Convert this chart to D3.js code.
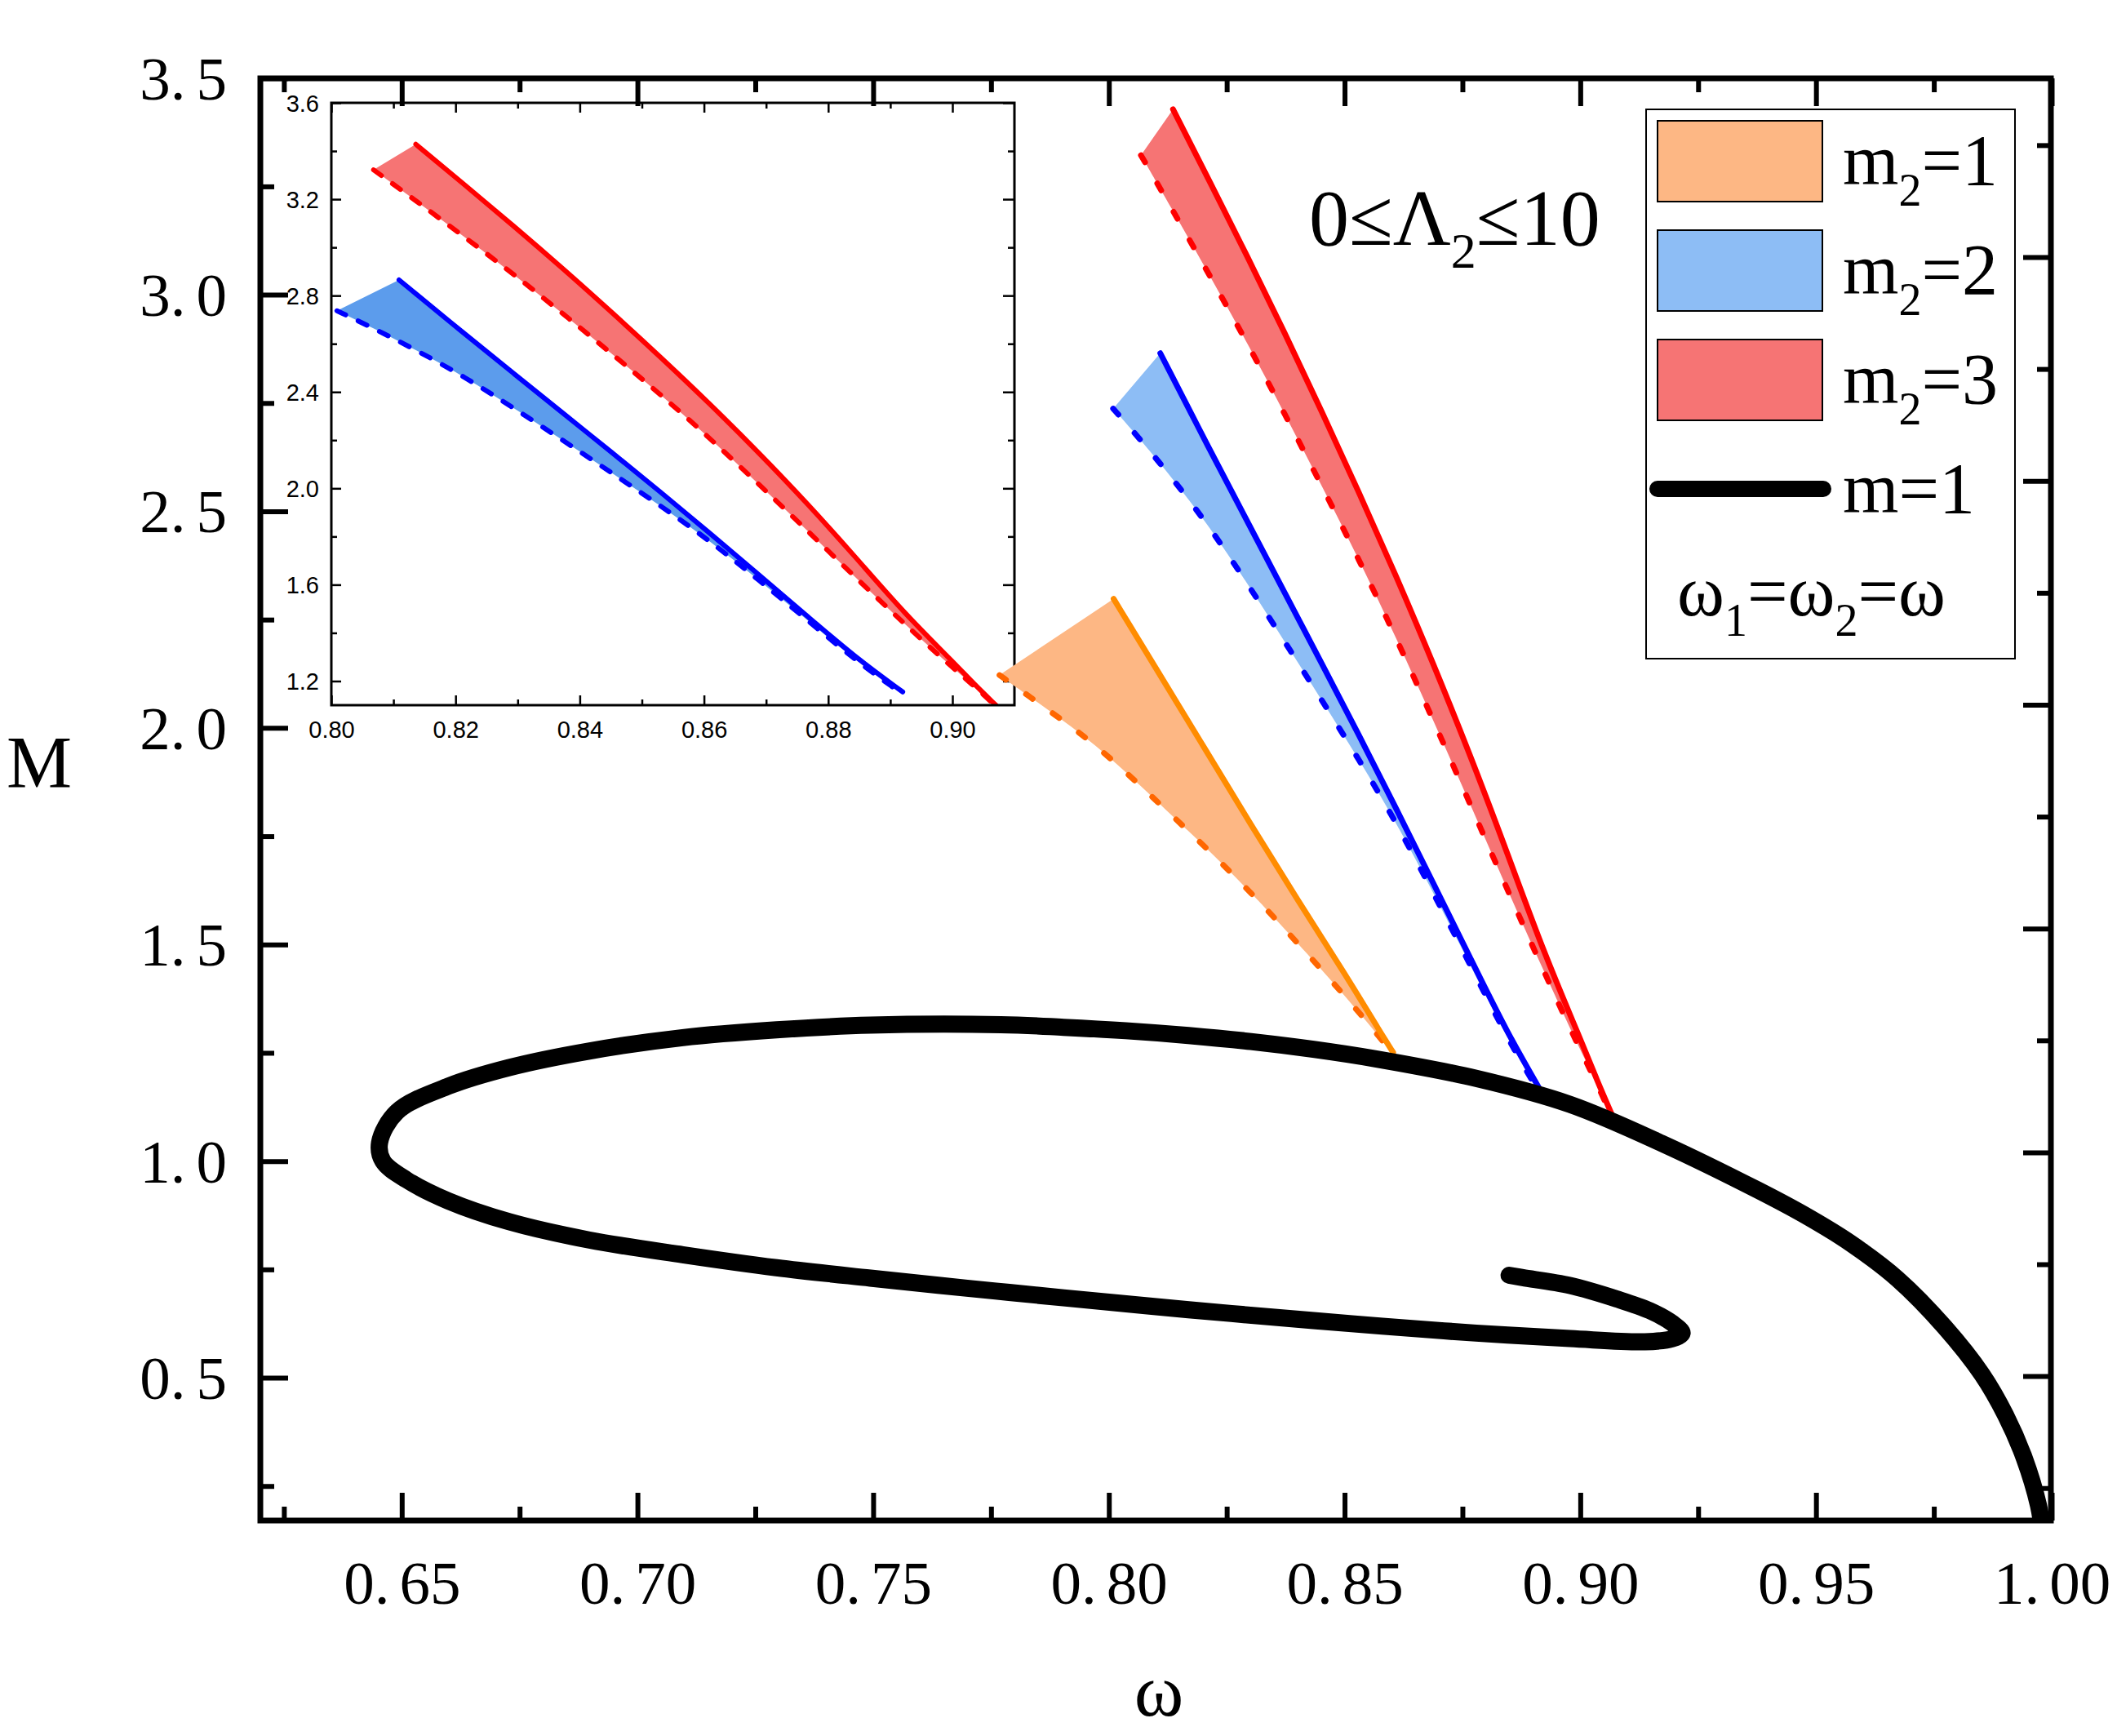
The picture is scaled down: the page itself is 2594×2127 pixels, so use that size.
<!DOCTYPE html>
<html>
<head>
<meta charset="utf-8">
<script src="https://cdn.jsdelivr.net/npm/d3@7"></script>
<style>
	body { margin: 0; background: #ffffff; }
	svg { display: block; background: #ffffff; }
</style>
</head>
<body>
<svg></svg>
<script>
	// ---- data (omega, M) ----
	var blackCurve = [
		[0.9980,0.150],[0.9972,0.205],[0.9942,0.314],[0.9902,0.414],[0.9852,0.508],[0.9773,0.617],
		[0.9673,0.728],[0.9574,0.810],[0.9475,0.876],[0.9375,0.934],[0.9177,1.039],[0.8978,1.131],[0.8779,1.191],
		[0.8566,1.236],[0.8434,1.258],[0.8301,1.276],[0.8169,1.290],[0.8036,1.301],[0.7904,1.309],
		[0.7771,1.315],[0.7494,1.314],[0.7295,1.303],[0.7096,1.285],[0.6897,1.254],[0.6728,1.216],
		[0.6599,1.173],[0.6490,1.114],[0.6453,1.043],[0.6460,1.000],[0.6510,0.957],[0.6599,0.908],
		[0.6728,0.860],[0.6897,0.818],[0.7096,0.784],[0.7295,0.754],[0.7494,0.730],[0.7638,0.7135],
		[0.7760,0.700],[0.7904,0.6845],[0.8169,0.657],[0.8434,0.632],[0.8580,0.619],[0.8779,0.603],
		[0.8978,0.5905],[0.9137,0.583],[0.9195,0.590],[0.9216,0.603],[0.9195,0.626],[0.9147,0.655],
		[0.9077,0.682],[0.8978,0.713],[0.8878,0.731],[0.8849,0.7365]
	];

	var orangeSolid = [[0.8010,2.298],[0.8102,2.134],[0.8202,1.955],[0.8301,1.777],[0.8400,1.603],[0.8500,1.434],[0.8579,1.292],[0.8603,1.251]];
	var orangeDashed = [[0.7768,2.122],[0.7837,2.068],[0.7904,2.016],[0.7970,1.962],[0.8049,1.885],[0.8115,1.817],[0.8208,1.722],[0.8301,1.620],[0.8367,1.543],[0.8453,1.440],[0.8540,1.332],[0.8592,1.262]];

	var blueSolid = [[0.8109,2.865],[0.8215,2.640],[0.8294,2.476],[0.8373,2.312],[0.8451,2.150],[0.8530,1.985],[0.8609,1.815],[0.8688,1.642],[0.8767,1.468],[0.8845,1.296],[0.8920,1.155]];
	var blueDashed = [[0.8009,2.737],[0.8058,2.677],[0.8136,2.575],[0.8215,2.462],[0.8294,2.333],[0.8373,2.199],[0.8451,2.065],[0.8530,1.928],[0.8609,1.783],[0.8688,1.620],[0.8767,1.452],[0.8845,1.284],[0.8912,1.160]];

	var redSolid = [[0.8136,3.428],[0.8215,3.259],[0.8294,3.088],[0.8373,2.912],[0.8451,2.732],[0.8530,2.545],[0.8609,2.352],[0.8688,2.149],[0.8767,1.936],[0.8845,1.712],[0.8924,1.477],[0.9003,1.275],[0.9034,1.190],[0.9070,1.100]];
	var redDashed = [[0.8068,3.322],[0.8136,3.194],[0.8215,3.042],[0.8294,2.888],[0.8373,2.725],[0.8451,2.560],[0.8530,2.390],[0.8609,2.209],[0.8688,2.018],[0.8767,1.823],[0.8845,1.627],[0.8924,1.435],[0.8985,1.290],[0.9035,1.180],[0.9066,1.105]];

	// ---- ticks ----
	var xMajor = [0.65,0.70,0.75,0.80,0.85,0.90,0.95,1.00];
	var xMinor = [0.625,0.675,0.725,0.775,0.825,0.875,0.925,0.975];
	var yMajor = [0.5,1.0,1.5,2.0,2.5,3.0,3.5];
	var yMinor = [0.25,0.75,1.25,1.75,2.25,2.75,3.25];
	var rightMajor = [0.5,1.0,1.5,2.0,2.5,3.0];
	var rightMinor = [0.25,0.75,1.25,1.75,2.25,2.75,3.25];
	var insetXMajor = [0.80,0.82,0.84,0.86,0.88,0.90];
	var insetXMinor = [0.81,0.83,0.85,0.87,0.89];
	var insetYMajor = [1.2,1.6,2.0,2.4,2.8,3.2,3.6];
	var insetYMinor = [1.4,1.8,2.2,2.6,3.0,3.4];

	var legendItems = [
		{ label: "m", sub: "2", tail: "=1", fill: "#FDB784" },
		{ label: "m", sub: "2", tail: "=2", fill: "#8DBDF5" },
		{ label: "m", sub: "2", tail: "=3", fill: "#F67474" }
	];

	var serif = "'Liberation Serif', 'Times New Roman', serif";
	var sans = "'Liberation Sans', Arial, sans-serif";

	var sizeSvg = { wt: 2594, ht: 2127 };
	var plot = { left: 319, right: 2513, top: 96, bottom: 1863 };
	var inset = { left: 406, right: 1243, top: 126, bottom: 864 };

	var svg = d3.select("svg").attr("width", sizeSvg.wt).attr("height", sizeSvg.ht);

	var xScale = d3.scaleLinear().domain([0.62, 1.0]).range([plot.left, 2514]);
	var yScale = d3.scaleLinear().domain([0.17, 3.5]).range([1863.2, 95.7]);
	var yRight = d3.scaleLinear().domain([0.1775, 3.398]).range([1863, 96.7]);
	var insetX = d3.scaleLinear().domain([0.80, 0.91]).range([inset.left, 1243.1]);
	var insetY = d3.scaleLinear().domain([1.1, 3.6]).range([inset.bottom, inset.top]);

	var defs = svg.append("defs");
	defs.append("clipPath").attr("id", "clipMain").append("rect")
		.attr("x", plot.left).attr("y", plot.top).attr("width", plot.right - plot.left).attr("height", plot.bottom - plot.top);
	defs.append("clipPath").attr("id", "clipInset").append("rect")
		.attr("x", inset.left).attr("y", inset.top).attr("width", inset.right - inset.left).attr("height", inset.bottom - inset.top);

	function lineGen(xs, ys, curve) {
		return d3.line().x(function (d){ return xs(d[0]); }).y(function (d){ return ys(d[1]); }).curve(curve);
	}

	function drawBand(g, xs, ys, solid, dashed, fill, solidColor, dashColor, lw, dash) {
		var smooth = lineGen(xs, ys, d3.curveBasis);
		var dSolid = smooth(solid);
		var dBack = smooth(dashed.slice().reverse());
		g.append("path")
			.attr("d", dSolid + "L" + dBack.substring(1) + "Z")
			.attr("fill", fill).attr("stroke", "none");
		g.append("path").attr("d", smooth(dashed))
			.attr("fill", "none").attr("stroke", dashColor).attr("stroke-width", lw)
			.attr("stroke-dasharray", dash).attr("stroke-linecap", "round");
		g.append("path").attr("d", dSolid)
			.attr("fill", "none").attr("stroke", solidColor).attr("stroke-width", lw).attr("stroke-linecap", "round");
	}

	function styleAxis(g, width) {
		g.select(".domain").remove();
		g.selectAll("line").attr("stroke", "#000").attr("stroke-width", width);
	}

	// split "0.65" into "0." + gap + "65"
	function splitLabel(sel, gap) {
		sel.each(function (){
			var t = d3.select(this);
			var parts = t.text().split(".");
			t.text("");
			t.append("tspan").text(parts[0] + ".");
			t.append("tspan").attr("dx", gap).text(parts[1]);
		});
	}

	// -----------------------------------------------------------------
	// inset
	// -----------------------------------------------------------------
	var gi = svg.append("g");
	var giPlot = gi.append("g").attr("clip-path", "url(#clipInset)");
	drawBand(giPlot, insetX, insetY, blueSolid, blueDashed, "#5C9CEC", "#0000FF", "#0000FF", 6, "12,17");
	drawBand(giPlot, insetX, insetY, redSolid, redDashed, "#F67474", "#FF0000", "#FF0000", 6, "12,17");

	var gib = gi.append("g").attr("transform", "translate(0," + inset.bottom + ")")
		.call(d3.axisBottom(insetX).tickValues(insetXMajor).tickSize(-12).tickPadding(0).tickFormat(d3.format(".2f")));
	styleAxis(gib, 2.5);
	gib.selectAll("text").attr("y", 40).attr("dy", null).attr("font-size", 29).attr("font-family", sans).attr("fill", "#000");
	styleAxis(gi.append("g").attr("transform", "translate(0," + inset.bottom + ")")
		.call(d3.axisBottom(insetX).tickValues(insetXMinor).tickSize(-7).tickFormat("")), 2.5);
	styleAxis(gi.append("g").attr("transform", "translate(0," + inset.top + ")")
		.call(d3.axisTop(insetX).tickValues(insetXMajor).tickSize(-12).tickFormat("")), 2.5);
	styleAxis(gi.append("g").attr("transform", "translate(0," + inset.top + ")")
		.call(d3.axisTop(insetX).tickValues(insetXMinor).tickSize(-7).tickFormat("")), 2.5);

	var gil = gi.append("g").attr("transform", "translate(" + inset.left + ",0)")
		.call(d3.axisLeft(insetY).tickValues(insetYMajor).tickSize(-12).tickPadding(15).tickFormat(d3.format(".1f")));
	styleAxis(gil, 2.5);
	gil.selectAll("text").attr("font-size", 29).attr("font-family", sans).attr("fill", "#000").attr("dy", "0.36em");
	styleAxis(gi.append("g").attr("transform", "translate(" + inset.left + ",0)")
		.call(d3.axisLeft(insetY).tickValues(insetYMinor).tickSize(-7).tickFormat("")), 2.5);
	styleAxis(gi.append("g").attr("transform", "translate(" + inset.right + ",0)")
		.call(d3.axisRight(insetY).tickValues(insetYMajor).tickSize(-14).tickFormat("")), 2.5);
	styleAxis(gi.append("g").attr("transform", "translate(" + inset.right + ",0)")
		.call(d3.axisRight(insetY).tickValues(insetYMinor).tickSize(-8).tickFormat("")), 2.5);

	gi.append("rect").attr("x", inset.left).attr("y", inset.top)
		.attr("width", inset.right - inset.left).attr("height", inset.bottom - inset.top)
		.attr("fill", "none").attr("stroke", "#000").attr("stroke-width", 3);

	// -----------------------------------------------------------------
	// main plot
	// -----------------------------------------------------------------
	var gm = svg.append("g").attr("clip-path", "url(#clipMain)");
	drawBand(gm, xScale, yScale, orangeSolid, orangeDashed, "#FDB784", "#FF8C00", "#FF6600", 7, "10,30");
	drawBand(gm, xScale, yScale, blueSolid, blueDashed, "#8DBDF5", "#0000FF", "#0000FF", 7, "10,30");
	drawBand(gm, xScale, yScale, redSolid, redDashed, "#F67474", "#FF0000", "#FF0000", 7, "10,30");

	gm.append("path").attr("d", lineGen(xScale, yScale, d3.curveCatmullRom.alpha(0.5))(blackCurve))
		.attr("fill", "none").attr("stroke", "#000").attr("stroke-width", 21)
		.attr("stroke-linecap", "round").attr("stroke-linejoin", "round");

	// axes
	var gx = svg.append("g").attr("transform", "translate(0," + plot.bottom + ")")
		.call(d3.axisBottom(xScale).tickValues(xMajor).tickSize(-34).tickPadding(0).tickFormat(d3.format(".2f")));
	styleAxis(gx, 6);
	gx.selectAll("text").attr("y", 102).attr("dy", null).attr("font-size", 75).attr("font-family", serif).attr("fill", "#000").call(splitLabel, 12);
	styleAxis(svg.append("g").attr("transform", "translate(0," + plot.bottom + ")")
		.call(d3.axisBottom(xScale).tickValues(xMinor).tickSize(-17).tickFormat("")), 6);
	styleAxis(svg.append("g").attr("transform", "translate(0," + plot.top + ")")
		.call(d3.axisTop(xScale).tickValues(xMajor).tickSize(-34).tickFormat("")), 6);
	styleAxis(svg.append("g").attr("transform", "translate(0," + plot.top + ")")
		.call(d3.axisTop(xScale).tickValues(xMinor).tickSize(-17).tickFormat("")), 6);

	var gy = svg.append("g").attr("transform", "translate(" + plot.left + ",0)")
		.call(d3.axisLeft(yScale).tickValues(yMajor).tickSize(-34).tickPadding(41).tickFormat(d3.format(".1f")));
	styleAxis(gy, 6);
	gy.selectAll("text").attr("font-size", 75).attr("font-family", serif).attr("fill", "#000").attr("dy", "0.34em").call(splitLabel, 13);
	styleAxis(svg.append("g").attr("transform", "translate(" + plot.left + ",0)")
		.call(d3.axisLeft(yScale).tickValues(yMinor).tickSize(-17).tickFormat("")), 6);
	styleAxis(svg.append("g").attr("transform", "translate(" + plot.right + ",0)")
		.call(d3.axisRight(yRight).tickValues(rightMajor).tickSize(-34).tickFormat("")), 6);
	styleAxis(svg.append("g").attr("transform", "translate(" + plot.right + ",0)")
		.call(d3.axisRight(yRight).tickValues(rightMinor).tickSize(-17).tickFormat("")), 6);

	svg.append("rect").attr("x", plot.left).attr("y", plot.top)
		.attr("width", plot.right - plot.left).attr("height", plot.bottom - plot.top)
		.attr("fill", "none").attr("stroke", "#000").attr("stroke-width", 7);

	// axis titles
	svg.append("text").text("M").attr("x", 8).attr("y", 965)
		.attr("font-family", serif).attr("font-size", 90).attr("fill", "#000");
	svg.append("text").text("ω").attr("x", 1420).attr("y", 2102).attr("text-anchor", "middle")
		.attr("font-family", serif).attr("font-size", 92).attr("fill", "#000");

	// 0 <= Lambda_2 <= 10
	var lam = svg.append("text").attr("x", 1604).attr("y", 300)
		.attr("font-family", serif).attr("font-size", 98).attr("fill", "#000");
	lam.append("tspan").text("0≤Λ");
	lam.append("tspan").attr("dy", 28).attr("font-size", 62).text("2");
	lam.append("tspan").attr("dy", -28).text("≤10");

	// -----------------------------------------------------------------
	// legend
	// -----------------------------------------------------------------
	var legend = svg.append("g");
	legend.append("rect").attr("x", 2017).attr("y", 134).attr("width", 452).attr("height", 673)
		.attr("fill", "#fff").attr("stroke", "#000").attr("stroke-width", 2);

	legend.selectAll(".sw").data(legendItems).enter()
		.append("rect")
		.attr("x", 2031).attr("y", function (d,i){ return 148 + i*134; })
		.attr("width", 202).attr("height", 99)
		.attr("fill", function (d){ return d.fill; })
		.attr("stroke", "#000").attr("stroke-width", 2);

	legend.selectAll(".lt").data(legendItems).enter()
		.append("text")
		.attr("x", 2258).attr("y", function (d,i){ return 226 + i*134; })
		.attr("font-family", serif).attr("font-size", 88).attr("fill", "#000")
		.each(function (d){
			var t = d3.select(this);
			t.append("tspan").text(d.label);
			t.append("tspan").attr("dy", 26).attr("font-size", 56).text(d.sub);
			t.append("tspan").attr("dy", -26).text(d.tail);
		});

	legend.append("line").attr("x1", 2031).attr("x2", 2234).attr("y1", 599).attr("y2", 599)
		.attr("stroke", "#000").attr("stroke-width", 20).attr("stroke-linecap", "round");
	legend.append("text").text("m=1").attr("x", 2258).attr("y", 628)
		.attr("font-family", serif).attr("font-size", 88).attr("fill", "#000");

	var om = legend.append("text").attr("x", 2055).attr("y", 754)
		.attr("font-family", serif).attr("font-size", 88).attr("fill", "#000");
	om.append("tspan").text("ω");
	om.append("tspan").attr("dy", 25).attr("font-size", 56).text("1");
	om.append("tspan").attr("dy", -25).text("=ω");
	om.append("tspan").attr("dy", 25).attr("font-size", 56).text("2");
	om.append("tspan").attr("dy", -25).text("=ω");
</script>
</body>
</html>
